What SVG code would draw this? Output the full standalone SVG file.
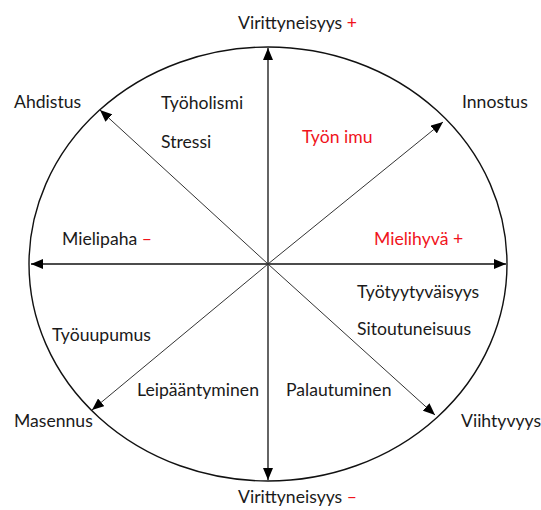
<svg xmlns="http://www.w3.org/2000/svg" width="541" height="510" viewBox="0 0 541 510">
<style>
text{font-family:Lato,"Open Sans","Liberation Sans",sans-serif;font-size:17.6px;fill:#1a1a1a}
.red{fill:#f0141c}
.ax{stroke:#111;stroke-width:1.3;fill:none}
.dg{stroke:#333;stroke-width:1;fill:none}
</style>
<defs>
<marker id="ah" viewBox="0 0 12 10" refX="12" refY="5" markerWidth="12" markerHeight="10" markerUnits="userSpaceOnUse" orient="auto-start-reverse">
<path d="M0,0 L12,5 L0,10 Z" fill="#000"/>
</marker>
</defs>
<g id="ellipse"><ellipse cx="268" cy="264" rx="239" ry="217" fill="none" stroke="#111" stroke-width="1.4"/></g>
<g id="connectors">
<line class="ax" x1="268" y1="480" x2="268" y2="48" marker-start="url(#ah)" marker-end="url(#ah)"/>
<line class="ax" x1="31" y1="264" x2="506" y2="264" marker-start="url(#ah)" marker-end="url(#ah)"/>
<line class="dg" x1="268" y1="264" x2="100" y2="110" marker-end="url(#ah)"/>
<line class="dg" x1="268" y1="264" x2="443" y2="122" marker-end="url(#ah)"/>
<line class="dg" x1="268" y1="264" x2="92" y2="410" marker-end="url(#ah)"/>
<line class="dg" x1="268" y1="264" x2="435" y2="415" marker-end="url(#ah)"/>
</g>
<g id="n-top"><text x="238" y="29">Virittyneisyys <tspan class="red">+</tspan></text></g>
<g id="n-bottom"><text x="238" y="503">Virittyneisyys <tspan class="red">–</tspan></text></g>
<g id="n-ahdistus"><text x="14" y="108">Ahdistus</text></g>
<g id="n-innostus"><text x="462" y="108">Innostus</text></g>
<g id="n-masennus"><text x="14" y="427">Masennus</text></g>
<g id="n-viihtyvyys"><text x="461" y="427">Viihtyvyys</text></g>
<g id="n-tyoholismi"><text x="161" y="109">Työholismi</text></g>
<g id="n-stressi"><text x="161" y="148">Stressi</text></g>
<g id="n-tyonimu"><text class="red" x="302" y="143">Työn imu</text></g>
<g id="n-mielipaha"><text x="62" y="245">Mielipaha <tspan class="red">–</tspan></text></g>
<g id="n-mielihyva"><text class="red" x="374" y="245">Mielihyvä +</text></g>
<g id="n-tyotyytyvaisyys"><text x="357" y="298">Työtyytyväisyys</text></g>
<g id="n-sitoutuneisuus"><text x="357" y="335">Sitoutuneisuus</text></g>
<g id="n-tyouupumus"><text x="52" y="341">Työuupumus</text></g>
<g id="n-leipaantyminen"><text x="137" y="396">Leipääntyminen</text></g>
<g id="n-palautuminen"><text x="286" y="396">Palautuminen</text></g>
</svg>
